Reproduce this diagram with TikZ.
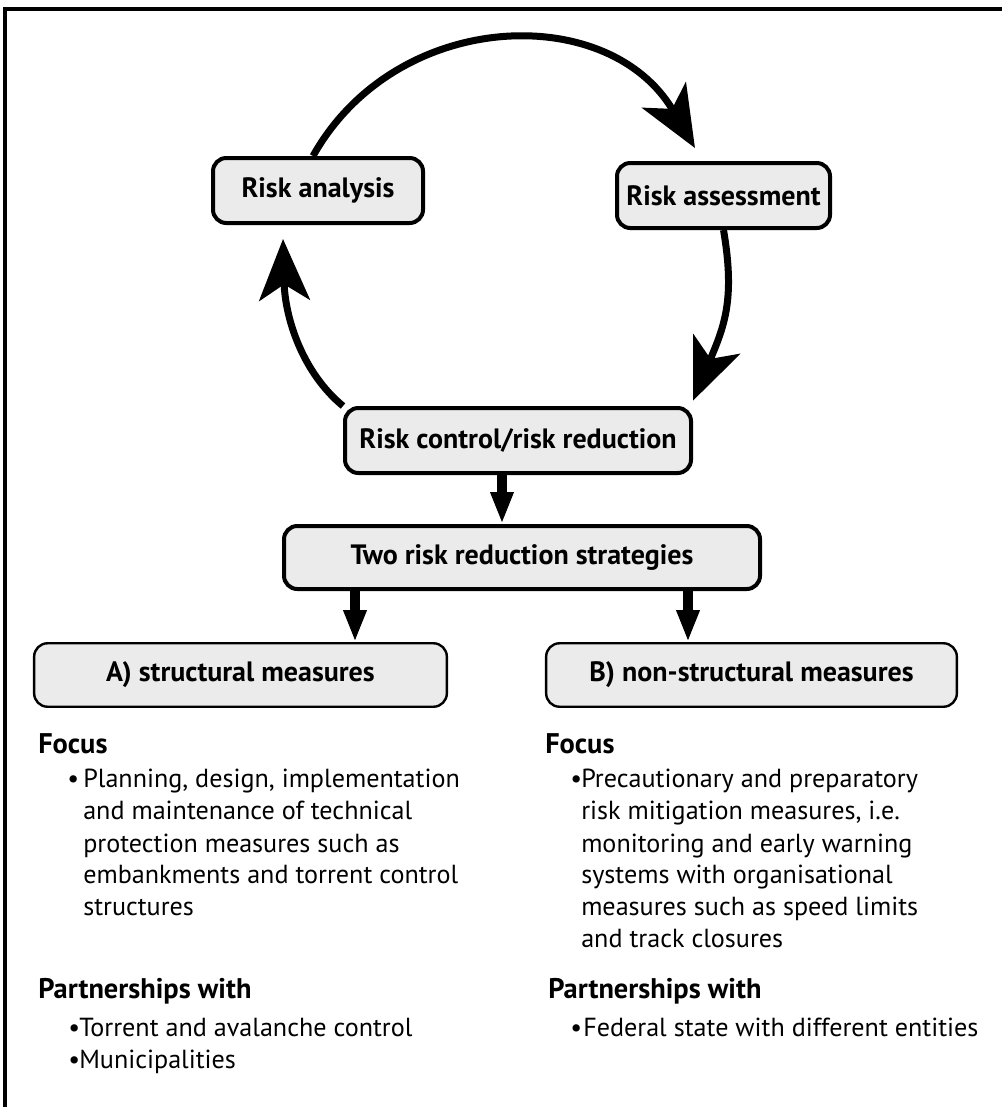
\documentclass[tikz,border=0pt]{standalone}
\usepackage{fontspec}
\setmainfont{PT Sans}
\usetikzlibrary{arrows.meta}
\definecolor{boxfill}{HTML}{EBEBEB}
\begin{document}
\begin{tikzpicture}[x=0.75pt,y=-0.75pt,
  box/.style={draw=black, line width=3pt, fill=boxfill, rounded corners=10pt, inner sep=0pt,
    font=\fontsize{21}{24}\selectfont\bfseries},
  subbox/.style={box, line width=1.8pt},
  cyc/.style={line width=5.25pt, -{Stealth[length=46pt,width=38pt,inset=12pt]}},
  downarr/.style={line width=7.5pt, -{Triangle[length=24pt,width=16pt]}},
  hd/.style={anchor=base west, inner sep=0pt, font=\fontsize{21.3}{24}\selectfont\bfseries},
  txt/.style={anchor=base west, inner sep=0pt, font=\fontsize{19.6}{22}\selectfont},
]
\useasboundingbox (0,0) rectangle (1002,1107);
% frame
\draw[line width=2.4pt] (5,1120) -- (5,9) -- (1020,9);

% nodes
\node[box, minimum width=157.5pt, minimum height=48.75pt] (ra) at (318,190.5) {Risk analysis};
\node[box, minimum width=159.75pt, minimum height=48.75pt] (rs) at (723.5,195.5) {Risk assessment};
\node[box, minimum width=259.5pt, minimum height=48.75pt] (rc) at (518,440.5) {Risk control/risk reduction};
\node[box, minimum width=357pt, minimum height=47.25pt] (two) at (522,557.5) {Two risk reduction strategies};
\node[subbox, minimum width=309.5pt, minimum height=47.6pt] (A) at (240.5,675) {A) structural measures};
\node[subbox, minimum width=308pt, minimum height=47.6pt] (B) at (751.5,675) {B) non-structural measures};

% cycle arrows
\draw[cyc] ([xshift=-3.75pt]ra.north) .. controls +(83,-148) and +(-86,-147) .. ([xshift=-21.4pt,yshift=9.75pt]rs.north);
\draw[cyc] (rs.south) .. controls +(12,70) and +(31,-74) .. ([yshift=4pt]rc.north east);
\draw[cyc] (rc.north west) .. controls +(-40,-33) and +(2,80) .. ([xshift=-26.25pt,yshift=-10.5pt]ra.south);

% down arrows
\draw[downarr] ([xshift=-12pt]rc.south) -- ([xshift=-12pt]rc.south |- two.north);
\draw[downarr] ([xshift=-125.25pt]two.south) -- ([xshift=-125.25pt]two.south |- A.north);
\draw[downarr] ([xshift=124.5pt]two.south) -- ([xshift=124.5pt]two.south |- B.north);

% left column
\node[hd] (lf) at (38,753) {Focus};
\node[txt] (lf1) at (67,787) {\makebox[12pt][l]{•}Planning, design, implementation};
\node[txt] (lf2) at (83,819) {and maintenance of technical};
\node[txt] (lf3) at (83,852) {protection measures such as};
\node[txt] (lf4) at (83,883) {embankments and torrent control};
\node[txt] (lf5) at (83,915) {structures};
\node[hd] (lp) at (38,998) {Partnerships with};
\node[txt] (lp1) at (68,1036) {\makebox[8.25pt][l]{•}Torrent and avalanche control};
\node[txt] (lp2) at (68,1068) {\makebox[8.25pt][l]{•}Municipalities};

% right column
\node[hd] (rf) at (545,753) {Focus};
\node[txt] (rf1) at (570,787) {\makebox[8.25pt][l]{•}Precautionary and preparatory};
\node[txt] (rf2) at (581,819) {risk mitigation measures, i.e.};
\node[txt] (rf3) at (581,852) {monitoring and early warning};
\node[txt] (rf4) at (581,883) {systems with organisational};
\node[txt] (rf5) at (581,915) {measures such as speed limits};
\node[txt] (rf6) at (581,947) {and track closures};
\node[hd] (rp) at (548,998) {Partnerships with};
\node[txt] (rp1) at (570,1036) {\makebox[9.75pt][l]{•}Federal state with different entities};
\end{tikzpicture}
\end{document}
